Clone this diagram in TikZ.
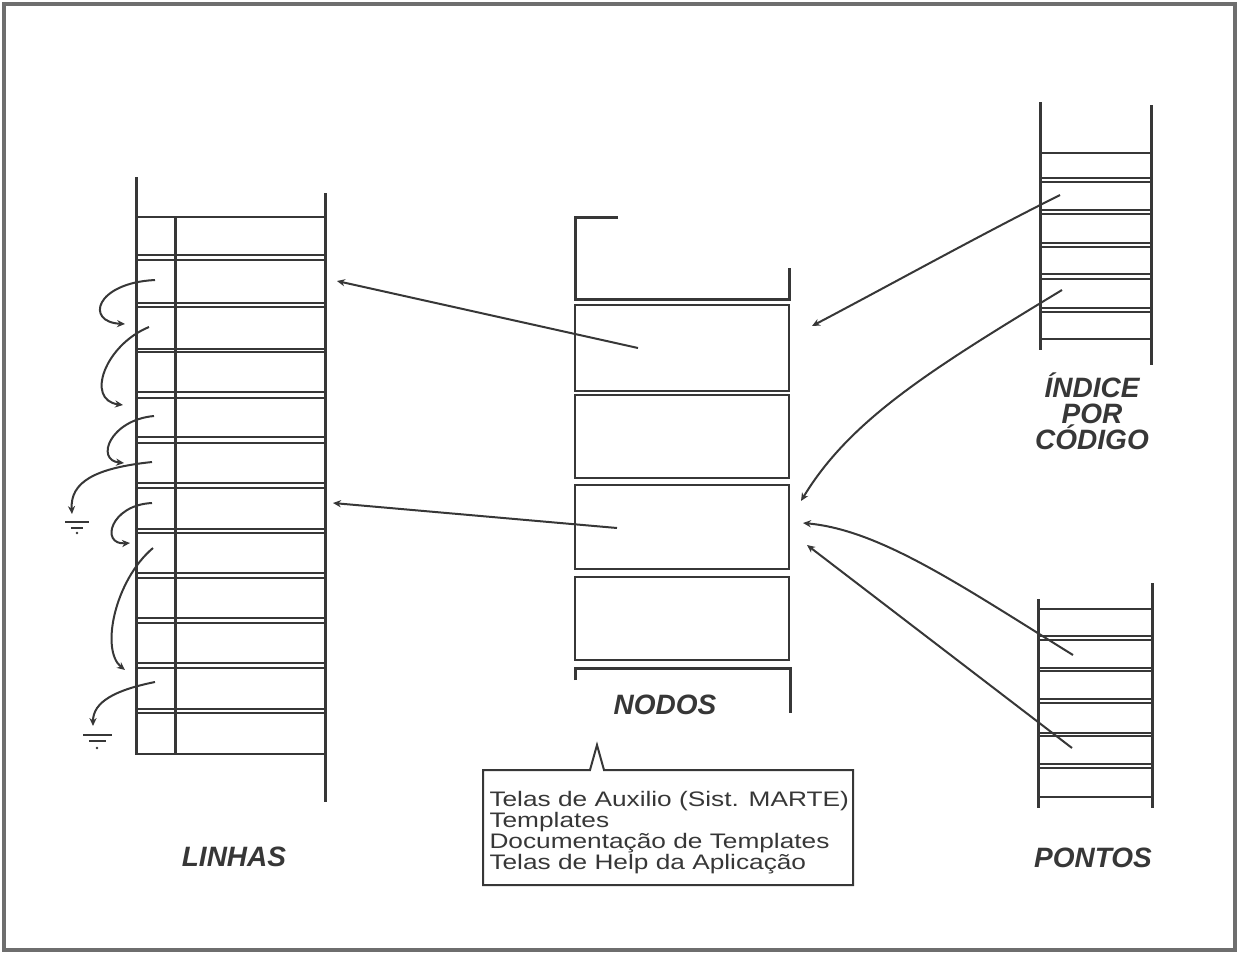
\documentclass[tikz,border=0pt]{standalone}
\usepackage{fontspec}
\setmainfont{Liberation Sans}
\usetikzlibrary{arrows.meta}
\definecolor{ink}{RGB}{55,55,55}
\definecolor{framec}{RGB}{110,110,110}
\begin{document}
\begin{tikzpicture}[x=0.5pt,y=-0.5pt,
  ln/.style={draw=ink, line width=1.5pt},
  cellbox/.style={draw=ink, line width=1.25pt, rectangle, inner sep=0pt, outer sep=0pt},
  ptr/.style={draw=ink, line width=1pt, -{Stealth[length=4pt,width=3.6pt]}},
  nul/.style={draw=ink, line width=0.8pt},
  title/.style={font=\fontsize{14}{13}\selectfont\bfseries\itshape, text=ink, align=center, inner sep=0pt},
  boxtext/.style={font=\fontsize{10.5}{10.5}\selectfont, text=ink, align=left, inner sep=0pt}]
\useasboundingbox (0,0) rectangle (1239,954);
% outer frame
\draw[draw=framec, line width=1.6pt] (4,4) rectangle (1235,950);

% ---------------- LINHAS ----------------
\foreach \a/\b [count=\i] in {217/255,260/303,307/349,352/392,398/437,443/483,488/529,533/573,578/618,623/663,668/709,713/754}{
  \node[cellbox, minimum width=94.5pt, minimum height={(\b-\a)*0.5pt}] (L\i) at (230.5,{(\a+\b)/2}) {};
}
\draw[ln] (136,177) -- (136,754);
\draw[ln] (325,193) -- (325,802);
\draw[ln] (175,217) -- (175,754);

% linked-list pointers on the left
\coordinate (a1s) at (155,280); \coordinate (a1e) at (125,324);
\coordinate (a2s) at (149,327); \coordinate (a2e) at (123,405);
\coordinate (a3s) at (154,416); \coordinate (a3e) at (124,463);
\coordinate (a4s) at (152,462); \coordinate (a4e) at (72,514);
\coordinate (a5s) at (152,503); \coordinate (a5e) at (130,543);
\coordinate (a6s) at (153,548); \coordinate (a6e) at (125,670);
\coordinate (a7s) at (155,682); \coordinate (a7e) at (93,726);
\draw[ptr] (a1s) .. controls (95,283) and (85,322) .. (a1e);
\draw[ptr] (a2s) .. controls (105,345) and (85,400) .. (a2e);
\draw[ptr] (a3s) .. controls (110,420) and (95,460) .. (a3e);
\draw[ptr] (a4s) .. controls (95,468) and (70,482) .. (a4e);
\draw[ptr] (a5s) .. controls (110,505) and (100,545) .. (a5e);
\draw[ptr] (a6s) .. controls (115,580) and (100,650) .. (a6e);
\draw[ptr] (a7s) .. controls (115,690) and (93,702) .. (a7e);
% null marks
\draw[nul] (65,522) -- (89,522);
\draw[nul] (71,528) -- (83,528);
\fill[ink] (77,533) circle (1.4);
\draw[nul] (83,735) -- (112,735);
\draw[nul] (89,741) -- (106,741);
\fill[ink] (97,748) circle (1.4);
\node[title] (tl) at (234,857) {LINHAS};

% ---------------- NODOS ----------------
\foreach \a/\b [count=\i] in {305/391,395/478,485/569,577/660}{
  \node[cellbox, minimum width=107pt, minimum height={(\b-\a)*0.5pt}] (N\i) at (682,{(\a+\b)/2}) {};
}
\draw[ln] (618,217) -- (575,217) -- (575,299) -- (789,299) -- (789,268);
\draw[ln] (575,680) -- (575,668) -- (790,668) -- (790,713);
\node[title] (tn) at (665,705) {NODOS};

\coordinate (n1s) at (638,348); \coordinate (n1e) at (337,281);
\coordinate (n3s) at (617,528); \coordinate (n3e) at (333,503);
\draw[ptr] (n1s) -- (n1e);
\draw[ptr] (n3s) -- (n3e);

% ---------------- INDICE POR CODIGO ----------------
\foreach \a/\b [count=\i] in {153/178,182/210,214/243,247/274,279/308,312/339}{
  \node[cellbox, minimum width=55.5pt, minimum height={(\b-\a)*0.5pt}] (I\i) at (1095.5,{(\a+\b)/2}) {};
}
\draw[ln] (1040,102) -- (1040,350);
\draw[ln] (1151,105) -- (1151,365);
\node[title] (ti) at (1092,411) {ÍNDICE\\POR\\CÓDIGO};

\coordinate (i1s) at (1060,195); \coordinate (i1e) at (812,326);
\coordinate (i2s) at (1062,290); \coordinate (i2e) at (801,501);
\draw[ptr] (i1s) .. controls (980,235) and (890,285) .. (i1e);
\draw[ptr] (i2s) .. controls (930,370) and (850,420) .. (i2e);

% ---------------- PONTOS ----------------
\foreach \a/\b [count=\i] in {609/636,640/668,671/699,703/733,736/764,768/797}{
  \node[cellbox, minimum width=57pt, minimum height={(\b-\a)*0.5pt}] (P\i) at (1095,{(\a+\b)/2}) {};
}
\draw[ln] (1038,599) -- (1038,808);
\draw[ln] (1152,583) -- (1152,808);
\node[title] (tp) at (1093,858) {PONTOS};

\coordinate (p1s) at (1073,655); \coordinate (p1e) at (803,523);
\coordinate (p2s) at (1072,748); \coordinate (p2e) at (807,545);
\draw[ptr] (p1s) .. controls (960,585) and (880,530) .. (p1e);
\draw[ptr] (p2s) -- (p2e);

% ---------------- legend box ----------------
\draw[draw=ink, line width=1pt] (483,770) -- (590,770) -- (597,745) -- (604,770) -- (853,770) -- (853,885) -- (483,885) -- cycle;
\node[boxtext, anchor=north west, xscale=1.25, transform shape] (bt) at (489,791)
  {Telas de Auxilio (Sist. MARTE)\\Templates\\Documentação de Templates\\Telas de Help da Aplicação};
\end{tikzpicture}
\end{document}
